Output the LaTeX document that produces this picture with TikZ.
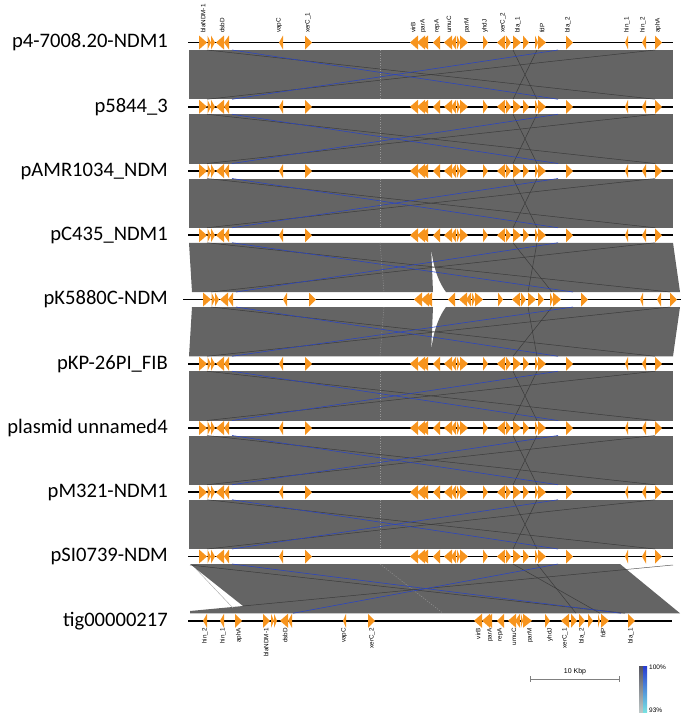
\documentclass[tikz,border=0pt]{standalone}
\usepackage{fontspec}
\setmainfont{Liberation Sans}
\newfontfamily\namefont{Carlito}
\definecolor{bandc}{RGB}{100,100,100}
\definecolor{genec}{RGB}{247,148,29}
\definecolor{blinec}{RGB}{45,70,190}
\definecolor{dlinec}{RGB}{50,50,50}
\definecolor{dotc}{RGB}{150,150,150}
\tikzset{
  nm/.style={font=\namefont\fontsize{20.6}{20.6}\selectfont, anchor=east, inner sep=0pt},
  tlab/.style={font=\fontsize{6.3}{6.3}\selectfont, rotate=90, anchor=west, inner sep=0pt},
  blab/.style={font=\fontsize{6.3}{6.3}\selectfont, rotate=90, anchor=east, inner sep=0pt},
  track/.style={line width=1.6pt, black},
  bl/.style={blinec, line width=0.6pt},
  dl/.style={dlinec, line width=0.5pt, opacity=0.8},
  dotl/.style={dotc, line width=0.5pt, dash pattern=on 1pt off 1.5pt},
}
\def\RL{199/207,207.5/211,211/215,305/312}
\def\RR{457/460,460/468,483/488,506/511,513/521,523/529,535/538,538/546,566/573,655/662}
\def\LL{216/224,224/229,279/283,410/418,417/425,420/428}
\def\LR{433/440,444/452,451/456,497/505,625/628,642/646}
\newcommand\genes[3]{%
  \foreach \a/\b in \RL {\fill[genec] ({\a+#2},{#1-7}) -- ({\b+#2},#1) -- ({\a+#2},{#1+7}) -- cycle;}
  \foreach \a/\b in \RR {\fill[genec] ({\a+#3},{#1-7}) -- ({\b+#3},#1) -- ({\a+#3},{#1+7}) -- cycle;}
  \foreach \a/\b in \LL {\fill[genec] ({\b+#2},{#1-7}) -- ({\a+#2},#1) -- ({\b+#2},{#1+7}) -- cycle;}
  \foreach \a/\b in \LR {\fill[genec] ({\b+#3},{#1-7}) -- ({\a+#3},#1) -- ({\b+#3},{#1+7}) -- cycle;}
}
\newcommand\stdband[2]{%
  \fill[bandc] (189,#1) rectangle (673,#2);
  \draw[dotl] (380,#1) -- (380,#2);
  \draw[dl] (207,#1) -- (655,#2);
  \draw[dl] (655,#1) -- (207,#2);
  \draw[dl] (513,#1) -- (537,#2);
  \draw[dl] (537,#1) -- (513,#2);
  \draw[bl] (232,#1) -- (558,#2);
  \draw[bl] (558,#1) -- (232,#2);
}
\begin{document}
\begin{tikzpicture}[x=1pt,y=-1pt]
\useasboundingbox (0,0) rectangle (685,716);
% ---------- bands ----------
\stdband{50}{99.25}
\stdband{114.25}{163.5}
\stdband{178.5}{227.75}
\stdband{371.25}{420.5}
\stdband{435.5}{484.75}
\stdband{499.75}{549}
% band 4-5
\fill[bandc] (189,242.75) -- (673,242.75) -- (680,292) -- (446,292)
   .. controls (437,280) and (432,262) .. (431,244) -- (433,292) -- (192,292) -- cycle;
\draw[dotl] (380,242.75) -- (384,292);
\draw[dl] (207,242.75) -- (670,292);
\draw[dl] (655,242.75) -- (211,292);
\draw[dl] (513,242.75) -- (552,292);
\draw[dl] (537,242.75) -- (528,292);
\draw[bl] (232,242.75) -- (573,292);
\draw[bl] (558,242.75) -- (236,292);
% band 5-6
\fill[bandc] (192,307) -- (433,307) -- (431,355) .. controls (432,337) and (437,319) .. (446,307)
   -- (680,307) -- (673,356.25) -- (189,356.25) -- cycle;
\draw[dotl] (384,307) -- (380,356.25);
\draw[dl] (211,307) -- (655,356.25);
\draw[dl] (670,307) -- (207,356.25);
\draw[dl] (528,307) -- (537,356.25);
\draw[dl] (552,307) -- (513,356.25);
\draw[bl] (236,307) -- (558,356.25);
\draw[bl] (573,307) -- (232,356.25);
% band 9-10
\fill[bandc] (190,564) -- (620,564) -- (680,613.25) -- (190,613.25) -- (190,611) -- (243,606) -- cycle;
\draw[gray!70!white, line width=0.4pt] (196,569) -- (233,608);
\draw[dotl] (380,564) -- (443,613.25);
\draw[dl] (190,565) -- (625,613.25);
\draw[dl] (673,565) -- (243,606);
\draw[dl] (513,564) -- (600,613.25);
\draw[dl] (537,564) -- (576,613.25);
\draw[bl] (232,564) -- (621,613.25);
\draw[bl] (558,564) -- (293,613.25);
% ---------- tracks ----------
\foreach \y in {42.5,106.75,171,235.25,363.75,428,492.25,556.5} {
  \draw[track] (188,\y) -- (673,\y);
  \genes{\y}{0}{0}
}
\draw[track] (183,299.5) -- (681,299.5);
\genes{299.5}{4}{15}
\draw[track] (188,620.75) -- (672,620.75);
\foreach \a/\b in {235/242,263/270,271/274,274/277,368/375,521/523,523/532,545/550,571/577,579/585,588/593,598/600,601/609,628/635}
  {\fill[genec] (\a,{620.75-7}) -- (\b,620.75) -- (\a,{620.75+7}) -- cycle;}
\foreach \a/\b in {203/207,220/224,280/288,288/292,343/346,474/482,482/490,485/492,497/504,508/516,515/520,561/569}
  {\fill[genec] (\b,{620.75-7}) -- (\a,620.75) -- (\b,{620.75+7}) -- cycle;}
% ---------- names ----------
\node[nm] (n1) at (168,42.5) {p4-7008.20-NDM1};
\node[nm] (n2) at (168,106.75) {p5844\_3};
\node[nm] (n3) at (168,171) {pAMR1034\_NDM};
\node[nm] (n4) at (168,235.25) {pC435\_NDM1};
\node[nm] (n5) at (168,299.5) {pK5880C-NDM};
\node[nm] (n6) at (168,363.75) {pKP-26PI\_FIB};
\node[nm] (n7) at (168,428) {plasmid unnamed4};
\node[nm] (n8) at (168,492.25) {pM321-NDM1};
\node[nm] (n9) at (168,556.5) {pSI0739-NDM};
\node[nm] (n10) at (168,620.75) {tig00000217};
% ---------- gene labels ----------
\foreach \x/\t [count=\i] in {203/blaNDM-1,222/dsbD,279/vapC,308/xerC\_1,413/virB,423/parA,437/repA,449/umuC,467/parM,485/yhdJ,503/xerC\_2,518/bla\_1,542/fdP,568/bla\_2,627/hin\_1,643/hin\_2,658/aphA}
  {\node[tlab] (t\i) at (\x,33) {\t};}
\foreach \x/\t [count=\i] in {205/hin\_2,223/hin\_1,239/aphA,266/blaNDM-1,285/dsbD,344/vapC,372/xerC\_2,478/virB,490/parA,500/repA,514/umuC,530/parM,550/yhdJ,565/xerC\_1,582/bla\_2,603/fdP,631/bla\_1}
  {\node[blab] (b\i) at (\x,628) {\t};}
% ---------- scale bar ----------
\coordinate (s1) at (530,679);
\coordinate (s2) at (619,679);
\draw[gray, line width=0.6pt] (s1) -- (s2);
\draw[gray, line width=0.6pt] (530,676) -- (530,682) (619,676) -- (619,682);
\node[font=\fontsize{7}{7}\selectfont, inner sep=0pt] (sc) at (575,672) {10 Kbp};
% ---------- legend ----------
\shade[top color={rgb,255:red,85;green,85;blue,95}, bottom color={rgb,255:red,190;green,200;blue,200}] (639,666) rectangle (643,712);
\shade[top color={rgb,255:red,40;green,60;blue,210}, bottom color={rgb,255:red,120;green,225;blue,225}] (643,666) rectangle (647,712);
\node[font=\fontsize{6.5}{6.5}\selectfont, anchor=west, inner sep=0pt] (l1) at (649,667) {100\%};
\node[font=\fontsize{6.5}{6.5}\selectfont, anchor=west, inner sep=0pt] (l2) at (649,710) {93\%};
\end{tikzpicture}
\end{document}
